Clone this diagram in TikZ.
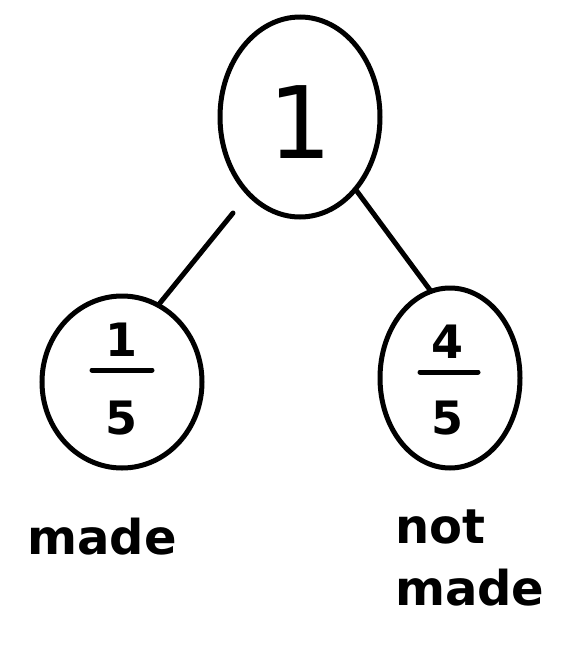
\documentclass[tikz,border=0pt]{standalone}
\usepackage{fontspec}
\setmainfont{DejaVu Sans}
\begin{document}
\begin{tikzpicture}[x=1pt,y=-1pt,
  ink/.style={line width=5pt,black,line cap=round},
  digit/.style={font=\bfseries\fontsize{46}{46}\selectfont,inner sep=0pt},
  word/.style={font=\bfseries\fontsize{48}{62}\selectfont,inner sep=0pt}]
\useasboundingbox (0,0) rectangle (587,656);
% tree bubbles
\draw[ink] (300,117) ellipse [x radius=80, y radius=100];
\draw[ink] (122,382) ellipse [x radius=80, y radius=86];
\draw[ink] (450,378) ellipse [x radius=70, y radius=90];
% connectors between bubbles
\coordinate (a1) at (233,213);
\coordinate (a2) at (160,303);
\coordinate (b1) at (356,190);
\coordinate (b2) at (430,290);
\draw[ink] (a1) -- (a2);
\draw[ink] (b1) -- (b2);
% root value
\node[font=\fontsize{100}{100}\selectfont,inner sep=0pt] (one) at (300,122) {1};
% left fraction 1/5
\node[digit] (ln) at (122,340) {1};
\node[digit] (ld) at (122,418) {5};
\coordinate (lb1) at (92,370);
\coordinate (lb2) at (152,370);
\draw[ink] (lb1) -- (lb2);
% right fraction 4/5
\node[digit] (rn) at (447,342) {4};
\node[digit] (rd) at (447,418) {5};
\coordinate (rb1) at (420,372);
\coordinate (rb2) at (478,372);
\draw[ink] (rb1) -- (rb2);
% captions
\node[word] (made) at (102,537) {made};
\node[word,align=left,anchor=north west] (notmade) at (395,510) {not\\made};
\end{tikzpicture}
\end{document}
